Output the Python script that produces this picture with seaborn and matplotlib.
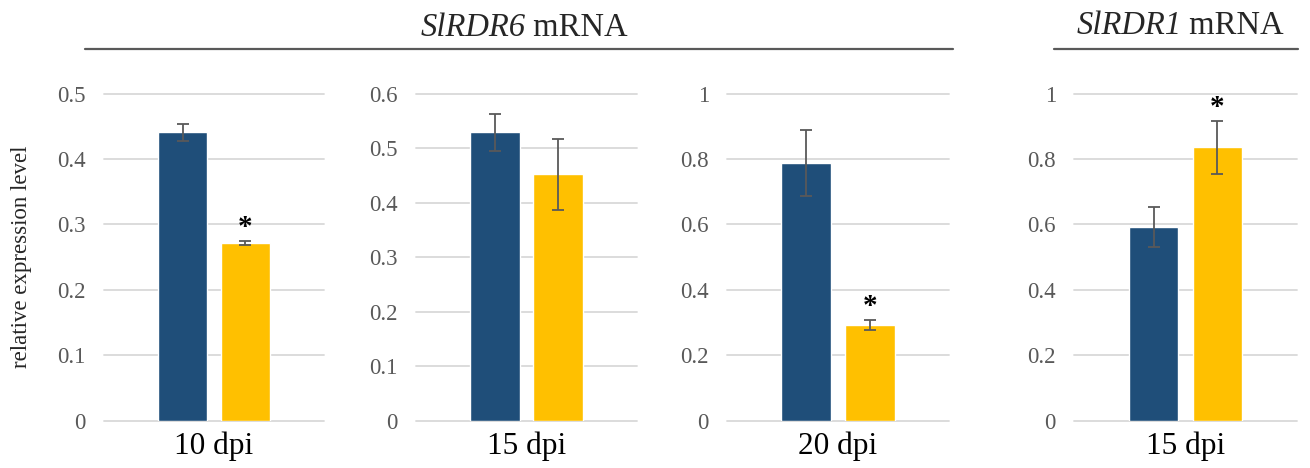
import pandas as pd
import seaborn as sns
import matplotlib.pyplot as plt
from matplotlib.lines import Line2D
from matplotlib.ticker import FuncFormatter, MultipleLocator

# values
panel_labels = ["10 dpi", "15 dpi", "20 dpi", "15 dpi"]
groups = ["control", "treated"]
control_mean = [0.441, 0.529, 0.788, 0.593]
control_err = [0.013, 0.034, 0.102, 0.061]
treated_mean = [0.272, 0.452, 0.293, 0.836]
treated_err = [0.003, 0.065, 0.016, 0.081]
treated_signif = [True, False, True, True]
y_max = [0.5, 0.6, 1.0, 1.0]
y_step = [0.1, 0.1, 0.2, 0.2]
gene_titles = [("SlRDR6", " mRNA"), ("SlRDR1", " mRNA")]

BLUE = "#1F4E79"
YELLOW = "#FFC000"
GREY = "#595959"

sns.set_theme(style="white")
plt.rcParams["font.family"] = ["Liberation Serif", "DejaVu Serif"]

fig = plt.figure(figsize=(13.1, 4.68), dpi=100)

# axes boxes in pixels (left, right) of the 1310 px wide figure
px_left = [104, 416, 727, 1074]
px_right = [324, 637, 949, 1297]
bottom, height = 0.101, 0.699

for i in range(4):
    ax = fig.add_axes([px_left[i] / 1310, bottom,
                       (px_right[i] - px_left[i]) / 1310, height])
    df = pd.DataFrame({
        "dpi": [panel_labels[i]] * 2,
        "group": groups,
        "value": [control_mean[i], treated_mean[i]],
    })
    sns.barplot(data=df, x="dpi", y="value", hue="group",
                hue_order=groups, palette=[BLUE, YELLOW], saturation=1,
                width=0.9, gap=0.22, errorbar=None, legend=False, ax=ax)

    means = [control_mean[i], treated_mean[i]]
    errs = [control_err[i], treated_err[i]]
    xs = [p.get_x() + p.get_width() / 2 for p in ax.patches[:2]]
    ax.errorbar(xs, means, yerr=errs, fmt="none", ecolor=GREY,
                elinewidth=1.3, capsize=4.5, capthick=1.3, zorder=5)

    if treated_signif[i]:
        ax.annotate("*", xy=(xs[1], means[1] + errs[1]), xytext=(0, 0),
                    textcoords="offset points", ha="center", va="bottom",
                    fontsize=21, fontweight="bold", color="black")

    ax.set_xlim(-0.786, 0.786)
    ax.set_ylim(0, y_max[i])
    ax.yaxis.set_major_locator(MultipleLocator(y_step[i]))
    ax.yaxis.set_major_formatter(FuncFormatter(lambda v, _: f"{v:g}"))
    ax.yaxis.grid(True, color="#D9D9D9", linewidth=1.3)
    ax.set_axisbelow(True)
    for line in ax.get_ygridlines():
        line.set_clip_on(False)
    for s in ax.spines.values():
        s.set_visible(False)
    ax.tick_params(axis="y", length=0, pad=13, labelsize=16.5, labelcolor=GREY)
    ax.tick_params(axis="x", length=0, pad=8, labelsize=22.5, labelcolor="black")
    ax.set_xlabel("")
    ax.set_ylabel("")

fig.text(21.5 / 1310, 1 - 257 / 468, "relative expression level",
         rotation=90, ha="center", va="center", fontsize=16.5)

# gene titles: italic gene name followed by upright "mRNA"
renderer = fig.canvas.get_renderer()
for (name, rest), cx, base in zip(gene_titles, [524, 1180], [36, 34]):
    t1 = fig.text(0, 1 - base / 468, name, style="italic",
                  ha="left", va="baseline", fontsize=23.5)
    t2 = fig.text(0, 1 - base / 468, rest,
                  ha="left", va="baseline", fontsize=23.5)
    w1 = t1.get_window_extent(renderer).width
    w2 = t2.get_window_extent(renderer).width
    x0 = cx - (w1 + w2) / 2
    t1.set_x(x0 / 1310)
    t2.set_x((x0 + w1) / 1310)

fig.add_artist(Line2D([85 / 1310, 953 / 1310], [1 - 49 / 468] * 2,
                      color=GREY, linewidth=1.6))
fig.add_artist(Line2D([1054 / 1310, 1298 / 1310], [1 - 49 / 468] * 2,
                      color=GREY, linewidth=1.6))

fig.savefig("out.png", dpi=100)
